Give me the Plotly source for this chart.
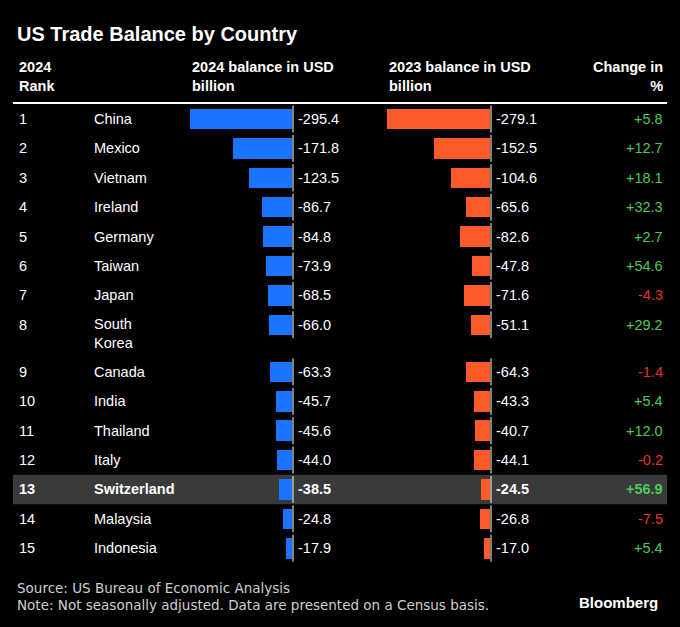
import plotly.graph_objects as go

ranks = [str(i) for i in range(1, 16)]
countries = ["China", "Mexico", "Vietnam", "Ireland", "Germany", "Taiwan", "Japan", "South<br>Korea",
             "Canada", "India", "Thailand", "Italy", "Switzerland", "Malaysia", "Indonesia"]
bal2024 = [-295.4, -171.8, -123.5, -86.7, -84.8, -73.9, -68.5, -66.0, -63.3, -45.7, -45.6, -44.0, -38.5, -24.8, -17.9]
bal2023 = [-279.1, -152.5, -104.6, -65.6, -82.6, -47.8, -71.6, -51.1, -64.3, -43.3, -40.7, -44.1, -24.5, -26.8, -17.0]
change = ["+5.8", "+12.7", "+18.1", "+32.3", "+2.7", "+54.6", "-4.3", "+29.2", "-1.4", "+5.4", "+12.0", "-0.2", "+56.9", "-7.5", "+5.4"]
highlight = "Switzerland"

W, H = 680, 627
rowpx = 29.4
top0 = 119
ys = [i + (0.6 if i >= 8 else 0) for i in range(len(ranks))]
yr = [(H - top0) / rowpx, -top0 / rowpx]

BLUE, ORANGE, GREEN, RED = "#1a74ff", "#fb5b28", "#4cc95a", "#e8322e"
FONT = "Liberation Sans"

fig = go.Figure()
fig.add_trace(go.Bar(x=bal2024, y=ys, orientation="h", marker=dict(color=BLUE, line_width=0),
                     width=0.7, xaxis="x", yaxis="y", showlegend=False, hoverinfo="skip"))
fig.add_trace(go.Bar(x=bal2023, y=ys, orientation="h", marker=dict(color=ORANGE, line_width=0),
                     width=0.7, xaxis="x2", yaxis="y", showlegend=False, hoverinfo="skip"))

x1d = [190 / W, 292 / W]
x2d = [387 / W, 490 / W]
fig.update_layout(
    width=W, height=H, margin=dict(l=0, r=0, t=0, b=0),
    paper_bgcolor="black", plot_bgcolor="rgba(0,0,0,0)",
    xaxis=dict(domain=x1d, range=[min(bal2024), 0], visible=False, fixedrange=True),
    xaxis2=dict(domain=x2d, range=[min(bal2023), 0], visible=False, fixedrange=True),
    yaxis=dict(domain=[0, 1], range=yr, visible=False),
    bargap=0, font=dict(family=FONT, color="white"),
)

shapes = []
ann = []
def A(x, y, t, size=14.5, color="white", xanchor="left", bold=False, yref="y", yanchor="middle", fam=FONT):
    if bold:
        t = "<b>" + t + "</b>"
    ann.append(dict(x=x, y=y, xref="paper", yref=yref, text=t, showarrow=False, xanchor=xanchor,
                    yanchor=yanchor, align="left" if xanchor == "left" else "right",
                    font=dict(size=size, color=color, family=fam)))

for i, y in enumerate(ys):
    hl = countries[i] == highlight
    if hl:
        shapes.append(dict(type="rect", xref="paper", yref="y", x0=13 / W, x1=667 / W, y0=y - 0.5, y1=y + 0.5,
                           fillcolor="#3a3a3a", line_width=0, layer="below"))
    for xd in (x1d, x2d):
        shapes.append(dict(type="line", xref="paper", yref="y", x0=xd[1] + 1 / W, x1=xd[1] + 1 / W,
                           y0=y - 0.46, y1=y + 0.46, line=dict(color="white", width=1)))
    cy = y + (0.3 if "<br>" in countries[i] else 0)
    A(17 / W, y, ranks[i], bold=hl)
    A(92 / W, cy, countries[i], bold=hl)
    A(296 / W, y, f"{bal2024[i]:.1f}", bold=hl)
    A(494 / W, y, f"{bal2023[i]:.1f}", bold=hl)
    A(665 / W, y, change[i], color=GREEN if change[i].startswith("+") else RED, xanchor="right", bold=hl)

shapes.append(dict(type="line", xref="paper", yref="paper", x0=13 / W, x1=667 / W, y0=1 - 103 / H, y1=1 - 103 / H,
                   line=dict(color="white", width=2)))

A(15 / W, 1 - 34 / H, "US Trade Balance by Country", size=20, bold=True, yref="paper")
A(17 / W, 1 - 77 / H, "2024<br>Rank", size=14.5, bold=True, yref="paper")
A(190 / W, 1 - 77 / H, "2024 balance in USD<br>billion", size=14.5, bold=True, yref="paper")
A(387 / W, 1 - 77 / H, "2023 balance in USD<br>billion", size=14.5, bold=True, yref="paper")
A(665 / W, 1 - 77 / H, "Change in<br>%", size=14.5, bold=True, yref="paper", xanchor="right")
A(15 / W, 1 - 588 / H, "Source: US Bureau of Economic Analysis", size=13.5, color="#cfcfcf", yref="paper", fam="DejaVu Sans")
A(15 / W, 1 - 605 / H, "Note: Not seasonally adjusted. Data are presented on a Census basis.", size=13.5, color="#cfcfcf", yref="paper", fam="DejaVu Sans")
A(660 / W, 1 - 602 / H, "Bloomberg", size=15, bold=True, yref="paper", xanchor="right")

fig.update_layout(shapes=shapes, annotations=ann)
fig.write_html("out.html", config={"displayModeBar": False})
with open("out.html", encoding="utf-8") as f:
    html = f.read()
html = html.replace("<head>", "<head><style>html,body{margin:0;padding:0;background:black;overflow:hidden}</style>", 1)
with open("out.html", "w", encoding="utf-8") as f:
    f.write(html)
